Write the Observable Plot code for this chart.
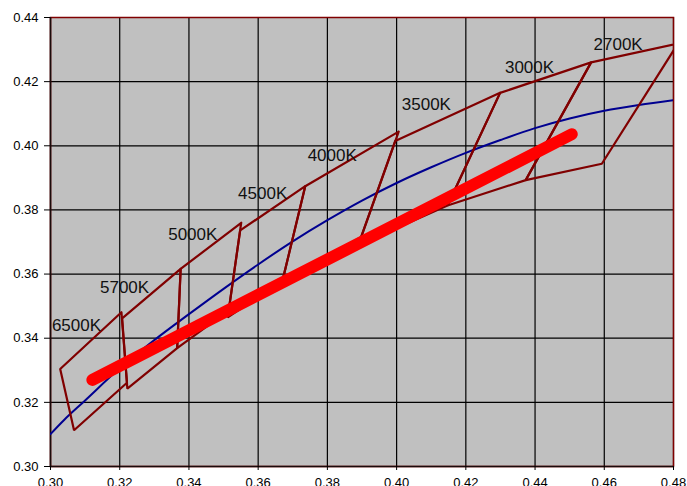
<!DOCTYPE html>
<html>
<head>
<meta charset="utf-8">
<script src="https://cdn.jsdelivr.net/npm/d3@7"></script>
<script src="https://cdn.jsdelivr.net/npm/@observablehq/plot@0.6"></script>
<style>
  html, body { margin: 0; padding: 0; background: #fff; }
  #chart svg { display: block; }
</style>
</head>
<body>
<div id="chart"></div>
<script>
// ANSI quadrangles (4 corners each)
const cctNames = ["6500K", "5700K", "5000K", "4500K", "4000K", "3500K", "3000K", "2700K"];
const quadX = [
  [0.3205, 0.3028, 0.3068, 0.3221],
  [0.3376, 0.3207, 0.3222, 0.3366],
  [0.3551, 0.3376, 0.3366, 0.3515],
  [0.3736, 0.3548, 0.3512, 0.3670],
  [0.4006, 0.3736, 0.3670, 0.3898],
  [0.4299, 0.3996, 0.3889, 0.4147],
  [0.4562, 0.4299, 0.4147, 0.4373],
  [0.4813, 0.4562, 0.4373, 0.4593]
];
const quadY = [
  [0.3481, 0.3304, 0.3113, 0.3261],
  [0.3616, 0.3462, 0.3243, 0.3369],
  [0.3760, 0.3616, 0.3369, 0.3487],
  [0.3874, 0.3736, 0.3465, 0.3578],
  [0.4044, 0.3874, 0.3578, 0.3716],
  [0.4165, 0.4015, 0.3690, 0.3814],
  [0.4260, 0.4165, 0.3814, 0.3893],
  [0.4319, 0.4260, 0.3893, 0.3944]
];
// label anchor positions
const labelX = [0.3004, 0.3143, 0.3340, 0.3542, 0.3743, 0.4015, 0.4313, 0.4569];
const labelY = [0.3439, 0.3559, 0.3722, 0.3850, 0.3970, 0.4128, 0.4245, 0.4316];

// blue curve (locus)
const locusX = [0.300, 0.304, 0.310, 0.320, 0.330, 0.340, 0.350, 0.360, 0.370, 0.380, 0.390, 0.400, 0.410, 0.420, 0.430, 0.440, 0.450, 0.460, 0.470, 0.480];
const locusY = [0.3101, 0.3146, 0.3206, 0.3306, 0.3394, 0.3475, 0.3554, 0.3630, 0.3702, 0.3768, 0.3829, 0.3884, 0.3933, 0.3978, 0.4018, 0.4055, 0.4085, 0.4109, 0.4127, 0.4142];

// red thick line
const redX = [0.3121, 0.4506];
const redY = [0.3270, 0.4036];

const xTicks = [0.30, 0.32, 0.34, 0.36, 0.38, 0.40, 0.42, 0.44, 0.46, 0.48];
const yTicks = [0.30, 0.32, 0.34, 0.36, 0.38, 0.40, 0.42, 0.44];

const quadPts = [];
cctNames.forEach((n, i) => {
  for (let k = 0; k <= 4; k++) {
    quadPts.push({cct: n, x: quadX[i][k % 4], y: quadY[i][k % 4]});
  }
});
const locus = locusX.map((x, i) => ({x, y: locusY[i]}));
const red = redX.map((x, i) => ({x, y: redY[i]}));
const labels = cctNames.map((n, i) => ({n, x: labelX[i], y: labelY[i]}));

const chart = Plot.plot({
  width: 687,
  height: 486,
  marginTop: 17,
  marginRight: 14,
  marginBottom: 20,
  marginLeft: 50,
  style: {fontFamily: "'Liberation Sans', Arial, sans-serif", fontSize: "13px", color: "#000", background: "#fff"},
  x: {domain: [0.30, 0.48], ticks: xTicks, tickFormat: ".2f"},
  y: {domain: [0.30, 0.44], ticks: yTicks, tickFormat: ".2f"},
  marks: [
    Plot.frame({fill: "#c0c0c0", stroke: null}),
    Plot.ruleX(xTicks, {stroke: "#000", strokeWidth: 1.2}),
    Plot.ruleY(yTicks, {stroke: "#000", strokeWidth: 1.2}),
    Plot.frame({stroke: "#800000", strokeWidth: 1.5}),
    Plot.ruleX([0.30], {stroke: "#1a0a0a", strokeWidth: 1.5}),
    Plot.ruleY([0.30], {stroke: "#1a0a0a", strokeWidth: 1.5}),
    Plot.axisX({ticks: xTicks, tickFormat: ".2f", tickSize: 4, tickPadding: 7, fontSize: 13, fill: "#000", label: null}),
    Plot.axisY({ticks: yTicks, tickFormat: ".2f", tickSize: 6, tickPadding: 6, fontSize: 13, fill: "#000", label: null}),
    Plot.line(locus, {x: "x", y: "y", stroke: "#000090", strokeWidth: 2, curve: "catmull-rom", clip: true}),
    Plot.line(quadPts, {x: "x", y: "y", z: "cct", stroke: "#800000", strokeWidth: 2.2, strokeLinejoin: "miter", clip: true}),
    Plot.line(red, {x: "x", y: "y", stroke: "#ff0000", strokeWidth: 12, strokeLinecap: "round"}),
    Plot.text(labels, {x: "x", y: "y", text: "n", textAnchor: "start", fontSize: 17, fill: "#111", lineAnchor: "middle"})
  ]
});
document.getElementById("chart").appendChild(chart);
</script>
</body>
</html>
